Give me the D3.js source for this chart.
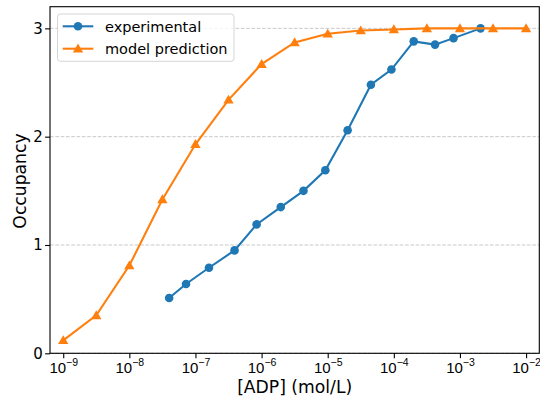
<!DOCTYPE html>
<html>
<head>
<meta charset="utf-8">
<script src="https://cdn.jsdelivr.net/npm/d3@7"></script>
<style>
  html, body { margin: 0; padding: 0; background: #fff; }
  svg { display: block; font-family: "DejaVu Sans", sans-serif; }
</style>
</head>
<body>
<svg id="chart" width="540" height="401"></svg>
<script>
// ADP concentration (mol/L) and binding-site occupancy
const expConc = [4e-8, 7.2e-8, 1.6e-7, 3.9e-7, 8.4e-7, 1.95e-6, 4.3e-6, 9.2e-6, 2e-5, 4.5e-5, 9.2e-5, 2e-4, 4.2e-4, 8e-4, 2.05e-3];
const expOcc  = [0.51, 0.64, 0.79, 0.95, 1.19, 1.35, 1.50, 1.69, 2.06, 2.48, 2.62, 2.88, 2.85, 2.91, 3.00];

const modelConc = [1e-9, 3.16e-9, 1e-8, 3.16e-8, 1e-7, 3.16e-7, 1e-6, 3.16e-6, 1e-5, 3.16e-5, 1e-4, 3.16e-4, 1e-3, 3.16e-3, 1e-2];
const modelOcc  = [0.12, 0.35, 0.81, 1.42, 1.93, 2.34, 2.67, 2.87, 2.95, 2.98, 2.99, 3.00, 3.00, 3.00, 3.00];

const xTickExp = [-9, -8, -7, -6, -5, -4, -3, -2];
const yTicks = [0, 1, 2, 3];

const seriesNames = ["experimental", "model prediction"];
const colors = ["#1f77b4", "#ff7f0e"];

const svg = d3.select("#chart");
const plotL = 50, plotR = 539.3, plotT = 6.7, plotB = 353.3;

const x = d3.scaleLog().domain([Math.pow(10, -9.2), Math.pow(10, -1.8)]).range([plotL, plotR]);
const y = d3.scaleLinear().domain([0, 3.2]).range([plotB, plotT]);

// horizontal grid
svg.append("g").selectAll("line").data(yTicks).join("line")
  .attr("x1", plotL).attr("x2", plotR)
  .attr("y1", d => y(d)).attr("y2", d => y(d))
  .attr("stroke", "#c4c4c4").attr("stroke-width", 0.9)
  .attr("stroke-dasharray", "3.7,1.6");

// axes
const fs = 15;
const xAxis = d3.axisBottom(x).tickValues(xTickExp.map(e => Math.pow(10, e)))
  .tickSize(4.9).tickPadding(3.5).tickFormat("");
const gx = svg.append("g").attr("transform", `translate(0,${plotB})`).call(xAxis);
gx.select(".domain").remove();
gx.selectAll(".tick line").attr("stroke", "#000").attr("stroke-width", 1.1);
gx.selectAll(".tick").each(function(d, i) {
  const t = d3.select(this).append("text")
    .attr("y", 19.4).attr("fill", "#000")
    .attr("text-anchor", "middle").attr("font-size", fs);
  t.append("tspan").text("10");
  t.append("tspan").attr("font-size", fs * 0.7).attr("dy", -6.5).text("\u2212" + Math.abs(xTickExp[i]));
});

const yAxis = d3.axisLeft(y).tickValues(yTicks).tickSize(4.9).tickPadding(2.4).tickFormat(d3.format("d"));
const gy = svg.append("g").attr("transform", `translate(${plotL},0)`).call(yAxis);
gy.select(".domain").remove();
gy.selectAll(".tick line").attr("stroke", "#000").attr("stroke-width", 1.1);
gy.selectAll(".tick text").attr("font-size", fs).attr("fill", "#000")
  .attr("font-family", "DejaVu Sans, sans-serif");

// series
const line = d3.line().x(d => x(d[0])).y(d => y(d[1]));
const expData = expConc.map((c, i) => [c, expOcc[i]]);
const modelData = modelConc.map((c, i) => [c, modelOcc[i]]);

const tri = d3.symbol().type(d3.symbolTriangle).size(46);

svg.append("path").datum(expData).attr("d", line)
  .attr("fill", "none").attr("stroke", colors[0]).attr("stroke-width", 2.08);
svg.append("g").selectAll("circle").data(expData).join("circle")
  .attr("cx", d => x(d[0])).attr("cy", d => y(d[1])).attr("r", 4.3)
  .attr("fill", colors[0]);

svg.append("path").datum(modelData).attr("d", line)
  .attr("fill", "none").attr("stroke", colors[1]).attr("stroke-width", 2.08);
svg.append("g").selectAll("path").data(modelData).join("path")
  .attr("d", tri)
  .attr("transform", d => `translate(${x(d[0])},${y(d[1]) + 0.8})`)
  .attr("fill", colors[1]);

// frame
svg.append("rect").attr("x", plotL).attr("y", plotT)
  .attr("width", plotR - plotL).attr("height", plotB - plotT)
  .attr("fill", "none").attr("stroke", "#000").attr("stroke-width", 1.1);

// legend
const lg = svg.append("g");
lg.append("rect").attr("x", 57.5).attr("y", 14).attr("width", 176.5).attr("height", 47.3)
  .attr("rx", 3).attr("fill", "#fff").attr("fill-opacity", 0.8)
  .attr("stroke", "#d5d5d5").attr("stroke-width", 1);
seriesNames.forEach((name, i) => {
  const cy = 26.3 + i * 22.4;
  lg.append("line").attr("x1", 62.7).attr("x2", 93.3).attr("y1", cy).attr("y2", cy)
    .attr("stroke", colors[i]).attr("stroke-width", 2.08);
  if (i === 0) {
    lg.append("circle").attr("cx", 78).attr("cy", cy).attr("r", 4.3).attr("fill", colors[0]);
  } else {
    lg.append("path").attr("d", tri).attr("transform", `translate(78,${cy + 0.8})`).attr("fill", colors[1]);
  }
  lg.append("text").attr("x", 105).attr("y", cy + 5.2).attr("font-size", 14.5).attr("fill", "#000").text(name);
});

// axis titles
svg.append("text").attr("x", (plotL + plotR) / 2).attr("y", 392.5)
  .attr("text-anchor", "middle").attr("font-size", 17.2).attr("fill", "#000")
  .text("[ADP] (mol/L)");
svg.append("text").attr("transform", `translate(26,${(plotT + plotB) / 2 + 1}) rotate(-90)`)
  .attr("text-anchor", "middle").attr("font-size", 17.2).attr("fill", "#000")
  .text("Occupancy");
</script>
</body>
</html>
